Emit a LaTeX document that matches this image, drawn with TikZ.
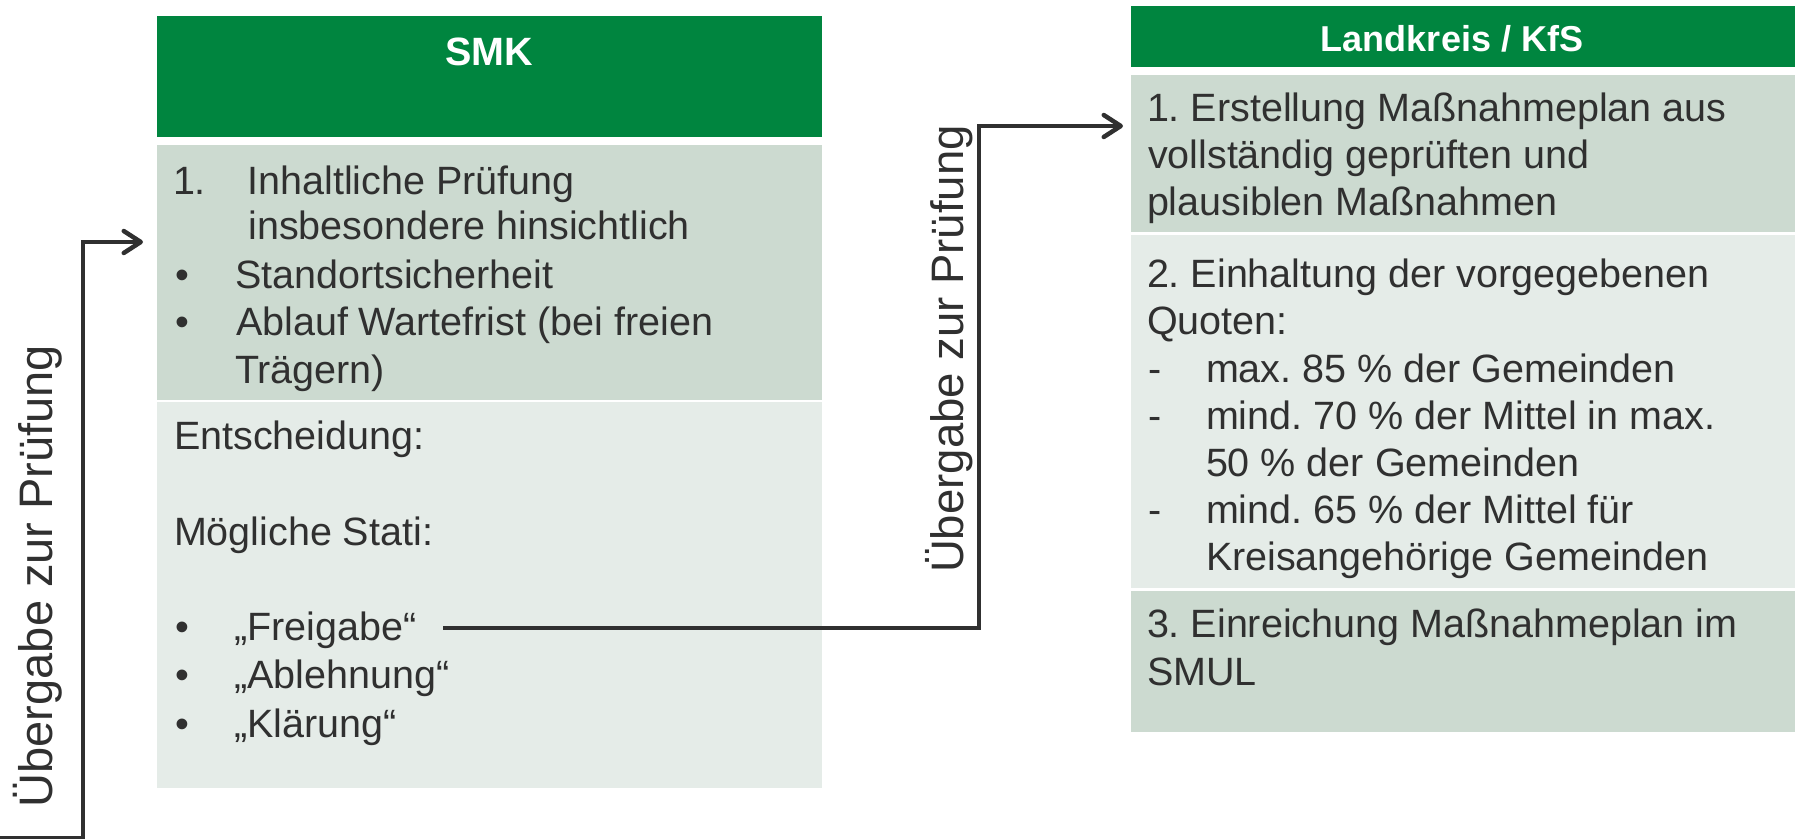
\documentclass[tikz,border=0pt]{standalone}
\usepackage{fontspec}
\setmainfont{Liberation Sans}
\usetikzlibrary{arrows.meta}
\definecolor{hdrgreen}{RGB}{0,133,63}
\definecolor{secdark}{RGB}{204,218,208}
\definecolor{seclight}{RGB}{229,236,232}
\definecolor{tcol}{RGB}{48,48,48}
\newcommand\bodyfnt{\fontsize{39.5bp}{47.5bp}\selectfont}
\newcommand\rotfnt{\fontsize{47bp}{56bp}\selectfont}
\newcommand\rotfntb{\fontsize{45.5bp}{54bp}\selectfont}
\frenchspacing
\begin{document}
\begin{tikzpicture}[x=1bp,y=-1bp,
  secbox/.style={inner sep=0pt, outer sep=0pt, anchor=north west, draw=none},
  txt/.style={anchor=base west, inner sep=0pt, outer sep=0pt, font=\bodyfnt, text=tcol},
  hdrtxt/.style={anchor=base, inner sep=0pt, outer sep=0pt, text=white},
  rottxt/.style={anchor=base, inner sep=0pt, outer sep=0pt, rotate=90, font=\rotfnt, text=tcol},
  conn/.style={draw=tcol, line width=4.5bp, -{Straight Barb[length=17bp,width=22bp,round]}}]
\useasboundingbox (0,0) rectangle (1795,839);
% SMK column
\node[secbox, fill=hdrgreen, minimum width=665bp, minimum height=121bp] (smkh) at (157,16) {};
\node[secbox, fill=secdark, minimum width=665bp, minimum height=255bp] (smk1) at (157,145) {};
\node[secbox, fill=seclight, minimum width=665bp, minimum height=386bp] (smk2) at (157,402) {};
\node[hdrtxt, font=\fontsize{39.5bp}{47.5bp}\selectfont\bfseries] (smkt) at (489.5,65) {SMK};
\node[txt] (s1a) at (173,194) {1.};
\node[txt] (s1b) at (247.5,194) {Inhaltliche Prüfung};
\node[txt] (s1c) at (248.5,239) {insbesondere hinsichtlich};
\node[txt] (s1d) at (175,288) {•};
\node[txt] (s1e) at (235,288) {Standortsicherheit};
\node[txt] (s1f) at (175,335) {•};
\node[txt] (s1g) at (236,335) {Ablauf Wartefrist (bei freien};
\node[txt] (s1h) at (235,383) {Trägern)};
\node[txt] (s2a) at (174,449) {Entscheidung:};
\node[txt] (s2b) at (174,545) {Mögliche Stati:};
\node[txt] (s2c) at (175,640) {•};
\node[txt] (s2d) at (234,640) {„Freigabe“};
\node[txt] (s2e) at (175,688) {•};
\node[txt] (s2f) at (234,688) {„Ablehnung“};
\node[txt] (s2g) at (175,737) {•};
\node[txt] (s2h) at (234,737) {„Klärung“};
% Landkreis column
\node[secbox, fill=hdrgreen, minimum width=664bp, minimum height=61bp] (lkh) at (1131,6) {};
\node[secbox, fill=secdark, minimum width=664bp, minimum height=157bp] (lk1) at (1131,75) {};
\node[secbox, fill=seclight, minimum width=664bp, minimum height=353bp] (lk2) at (1131,235) {};
\node[secbox, fill=secdark, minimum width=664bp, minimum height=141bp] (lk3) at (1131,591) {};
\node[hdrtxt, font=\fontsize{36bp}{43bp}\selectfont\bfseries] (lkt) at (1452,51) {Landkreis / KfS};
\node[txt] (l1a) at (1147,121) {1. Erstellung Maßnahmeplan aus};
\node[txt] (l1b) at (1148,168) {vollständig geprüften und};
\node[txt] (l1c) at (1147,215) {plausiblen Maßnahmen};
\node[txt] (l2a) at (1147,287) {2. Einhaltung der vorgegebenen};
\node[txt] (l2b) at (1147,334) {Quoten:};
\node[txt] (l2c) at (1148,382) {-};
\node[txt] (l2d) at (1206,382) {max. 85 \% der Gemeinden};
\node[txt] (l2e) at (1148,429) {-};
\node[txt] (l2f) at (1206,429) {mind. 70 \% der Mittel in max.};
\node[txt] (l2g) at (1206,476) {50 \% der Gemeinden};
\node[txt] (l2h) at (1148,523) {-};
\node[txt] (l2i) at (1206,523) {mind. 65 \% der Mittel für};
\node[txt] (l2j) at (1206,570) {Kreisangehörige Gemeinden};
\node[txt] (l3a) at (1147,637) {3. Einreichung Maßnahmeplan im};
\node[txt] (l3b) at (1147,685) {SMUL};
% rotated labels
\node[rottxt] (rot1) at (52,576) {Übergabe zur Prüfung};
\node[rottxt, font=\rotfntb] (rot2) at (963,349) {Übergabe zur Prüfung};
% connectors
\coordinate (c1start) at (0,838.5);
\coordinate (c1bend) at (83,242);
\coordinate (c1end) at (143,242);
\coordinate (c2start) at (443,628);
\coordinate (c2bend) at (979,126);
\coordinate (c2end) at (1123,126);
\draw[conn] (c1start) -| (c1bend) -- (c1end);
\draw[conn] (c2start) -| (c2bend) -- (c2end);
\end{tikzpicture}
\end{document}
